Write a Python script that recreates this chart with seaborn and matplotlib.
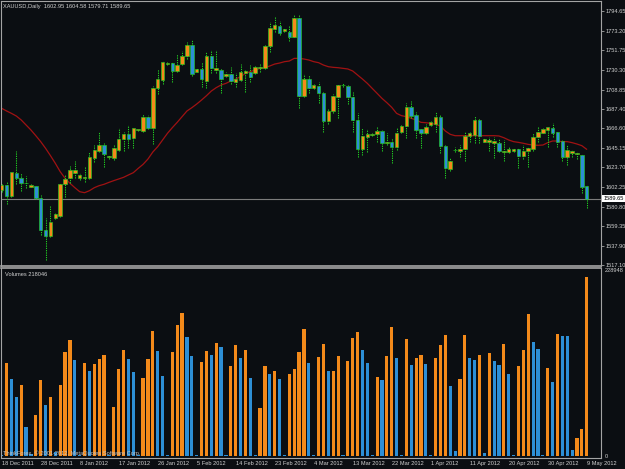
import numpy as np
import pandas as pd
import matplotlib
matplotlib.use('Agg')
import matplotlib.pyplot as plt
import matplotlib.transforms as mtransforms
import seaborn as sns

# ---- data (XAUUSD daily, 18 Dec 2011 - 9 May 2012) ----
symbol = 'XAUUSD,Daily'
copyright_text = 'ThinkForex, \u00a9 2001-2012, MetaQuotes Software Corp.'

date_labels = ['18 Dec 2011', '28 Dec 2011', '8 Jan 2012', '17 Jan 2012', '26 Jan 2012',
               '5 Feb 2012', '14 Feb 2012', '23 Feb 2012', '4 Mar 2012', '13 Mar 2012',
               '22 Mar 2012', '1 Apr 2012', '11 Apr 2012', '20 Apr 2012', '30 Apr 2012',
               '9 May 2012']

opens = [1599.1, 1604.5, 1592.9, 1618.0, 1612.5, 1606.5, 1602.7, 1603.1, 1590.0, 1555.4,
         1549.2, 1568.1, 1571.0, 1606.0, 1611.8, 1618.0, 1612.5, 1611.8, 1611.8, 1634.4,
         1641.7, 1647.9, 1635.1, 1634.4, 1643.1, 1654.4, 1660.3, 1655.5, 1664.3, 1663.5,
         1679.2, 1666.4, 1710.1, 1719.3, 1737.1, 1737.5, 1729.5, 1736.4, 1745.8, 1757.5,
         1728.4, 1730.9, 1718.5, 1745.5, 1730.2, 1730.2, 1723.6, 1725.8, 1717.4, 1719.3,
         1727.3, 1728.4, 1726.9, 1732.0, 1732.7, 1756.8, 1775.0, 1778.3, 1772.8, 1772.1,
         1766.6, 1786.6, 1702.1, 1720.3, 1710.9, 1712.7, 1705.4, 1674.5, 1685.4, 1701.0,
         1713.4, 1713.1, 1700.3, 1675.6, 1643.5, 1657.3, 1659.2, 1660.3, 1663.5, 1650.1,
         1651.9, 1646.4, 1662.1, 1669.0, 1689.4, 1681.0, 1665.4, 1661.7, 1670.1, 1671.2,
         1679.2, 1647.1, 1622.0, 1642.4, 1642.0, 1643.5, 1658.1, 1659.2, 1675.6, 1651.9,
         1651.9, 1650.8, 1650.8, 1640.9, 1640.9, 1641.7, 1643.5, 1636.6, 1641.7, 1643.5,
         1657.3, 1661.7, 1665.0, 1667.2, 1662.8, 1652.6, 1635.5, 1639.1, 1638.0, 1637.3,
         1602.95]

highs = [1606.4, 1608.2, 1619.1, 1641.7, 1617.3, 1614.4, 1605.3, 1603.8, 1593.6, 1568.1,
         1581.6, 1573.6, 1606.4, 1615.5, 1625.3, 1631.1, 1617.3, 1623.8, 1640.9, 1648.2,
         1662.1, 1650.1, 1637.3, 1648.2, 1667.2, 1662.8, 1670.1, 1667.2, 1665.7, 1681.7,
         1681.0, 1713.1, 1730.9, 1740.0, 1739.3, 1738.6, 1747.3, 1750.9, 1761.1, 1763.0,
         1732.0, 1738.6, 1750.2, 1752.0, 1752.0, 1732.0, 1728.4, 1733.1, 1726.5, 1736.7,
         1730.2, 1735.6, 1734.6, 1736.4, 1757.5, 1782.3, 1787.7, 1783.7, 1775.7, 1779.3,
         1790.3, 1790.3, 1725.4, 1724.7, 1714.9, 1716.7, 1705.8, 1688.3, 1703.6, 1714.9,
         1716.3, 1713.8, 1705.8, 1682.8, 1666.4, 1665.4, 1661.7, 1669.0, 1664.6, 1661.7,
         1656.2, 1666.4, 1670.1, 1693.8, 1696.7, 1683.9, 1665.7, 1670.8, 1674.5, 1683.9,
         1681.0, 1648.2, 1633.7, 1646.4, 1648.2, 1662.8, 1662.8, 1679.9, 1677.4, 1656.2,
         1657.3, 1657.3, 1654.4, 1653.7, 1646.4, 1644.6, 1644.6, 1648.2, 1646.4, 1661.0,
         1667.5, 1666.4, 1668.3, 1671.9, 1663.5, 1653.7, 1648.2, 1642.8, 1640.9, 1638.0,
         1604.58]

lows = [1597.2, 1583.4, 1591.8, 1605.3, 1598.0, 1601.6, 1602.0, 1589.2, 1549.9, 1522.6,
        1548.1, 1567.0, 1569.9, 1591.8, 1606.4, 1611.8, 1610.0, 1608.2, 1611.1, 1630.0,
        1641.0, 1624.6, 1632.9, 1631.8, 1642.0, 1642.0, 1645.3, 1645.3, 1663.5, 1662.8,
        1665.7, 1649.0, 1703.6, 1714.5, 1735.6, 1716.7, 1728.4, 1735.6, 1742.2, 1724.0,
        1727.6, 1712.0, 1710.1, 1726.5, 1726.5, 1704.7, 1722.9, 1714.5, 1712.0, 1718.2,
        1705.8, 1716.7, 1725.8, 1728.4, 1731.3, 1749.5, 1772.1, 1768.4, 1772.1, 1761.9,
        1765.9, 1689.0, 1701.0, 1704.7, 1709.4, 1693.8, 1662.8, 1670.8, 1682.8, 1677.4,
        1712.0, 1692.7, 1662.8, 1634.8, 1637.3, 1640.2, 1658.4, 1651.9, 1642.0, 1648.2,
        1628.2, 1642.8, 1661.7, 1655.5, 1678.1, 1655.5, 1645.3, 1659.9, 1669.4, 1662.8,
        1639.1, 1611.8, 1619.8, 1640.9, 1635.5, 1631.1, 1651.9, 1650.8, 1650.1, 1651.1,
        1641.7, 1634.4, 1640.9, 1631.1, 1639.1, 1640.9, 1623.5, 1633.0, 1624.6, 1642.0,
        1651.1, 1661.0, 1646.4, 1657.3, 1646.4, 1631.1, 1626.4, 1635.5, 1632.6, 1595.4,
        1579.71]

closes = [1604.5, 1592.9, 1618.4, 1612.5, 1607.1, 1606.2, 1604.5, 1590.0, 1555.4, 1549.2,
          1564.5, 1572.5, 1605.6, 1611.1, 1620.9, 1620.9, 1615.5, 1613.3, 1634.8, 1642.8,
          1647.9, 1638.4, 1635.5, 1645.3, 1654.4, 1660.3, 1654.8, 1666.4, 1665.0, 1679.2,
          1667.2, 1710.1, 1720.3, 1738.6, 1737.8, 1729.5, 1735.6, 1745.5, 1757.5, 1725.4,
          1730.9, 1720.3, 1745.5, 1732.0, 1732.7, 1720.3, 1725.8, 1718.2, 1720.3, 1728.4,
          1729.1, 1722.2, 1733.8, 1733.8, 1756.8, 1776.4, 1779.3, 1771.0, 1775.0, 1766.6,
          1786.6, 1702.1, 1720.3, 1710.9, 1713.8, 1705.1, 1674.5, 1685.4, 1702.1, 1713.8,
          1714.2, 1700.3, 1675.6, 1643.5, 1658.1, 1660.3, 1660.6, 1663.9, 1650.1, 1651.9,
          1646.4, 1661.7, 1669.0, 1690.1, 1680.3, 1664.6, 1661.0, 1668.3, 1673.0, 1679.2,
          1647.1, 1623.5, 1630.8, 1643.1, 1643.5, 1658.1, 1661.0, 1675.6, 1658.4, 1654.8,
          1653.7, 1652.6, 1641.7, 1642.0, 1643.5, 1643.5, 1636.6, 1642.0, 1644.6, 1657.3,
          1662.8, 1665.4, 1667.5, 1661.7, 1651.9, 1635.5, 1642.8, 1642.0, 1639.9, 1602.7,
          1589.65]

ma_values = [1688.3, 1685.4, 1682.8, 1679.9, 1675.6, 1670.1, 1664.6, 1658.4, 1651.9, 1644.6,
             1636.6, 1628.2, 1619.1, 1611.8, 1606.4, 1601.6, 1597.2, 1596.1, 1598.3, 1601.6,
             1603.8, 1605.3, 1607.4, 1609.3, 1611.1, 1612.9, 1615.5, 1618.0, 1622.7, 1627.1,
             1632.9, 1640.6, 1646.4, 1653.7, 1661.0, 1667.2, 1673.0, 1679.2, 1685.4, 1689.0,
             1693.0, 1697.4, 1702.1, 1707.2, 1710.9, 1713.8, 1715.6, 1718.2, 1720.3, 1722.9,
             1726.5, 1728.4, 1730.2, 1732.0, 1732.7, 1734.6, 1736.7, 1737.8, 1739.3, 1740.0,
             1742.9, 1742.9, 1742.2, 1741.1, 1739.3, 1738.2, 1735.6, 1733.8, 1733.1, 1732.7,
             1732.0, 1731.3, 1729.1, 1724.7, 1720.3, 1715.6, 1710.1, 1704.7, 1699.2, 1694.5,
             1689.4, 1682.8, 1680.3, 1679.2, 1677.4, 1675.6, 1673.0, 1672.6, 1671.9, 1670.8,
             1669.0, 1663.5, 1659.9, 1658.4, 1658.4, 1658.4, 1658.4, 1658.4, 1658.4, 1658.4,
             1658.4, 1658.4, 1658.1, 1656.2, 1653.7, 1651.9, 1651.1, 1650.1, 1648.9, 1648.2,
             1647.9, 1648.2, 1650.8, 1652.6, 1652.6, 1651.9, 1651.9, 1650.8, 1649.3, 1647.5,
             1643.5]

volumes = [1500, 113800, 94000, 72400, 86600, 35800, 2000, 50000, 92700, 62200,
           72000, 4900, 86600, 126500, 141500, 117100, 1300, 113100, 104100, 112300,
           118400, 123200, 1400, 59400, 106200, 129300, 118000, 102100, 1200, 94600,
           118400, 152500, 128100, 98000, 1300, 126500, 159800, 174500, 145200, 122000,
           1400, 114300, 128100, 123200, 137500, 132600, 1200, 109800, 135400, 119900,
           129300, 94800, 1300, 58900, 109800, 100100, 103700, 94000, 1400, 99700,
           106200, 126500, 155000, 113800, 1300, 120800, 137000, 103700, 104100, 122000,
           1200, 115600, 143600, 151300, 129300, 113800, 1300, 95800, 92700, 122000,
           157400, 119200, 1400, 142800, 111400, 119600, 122900, 112300, 1200, 119600,
           135100, 148000, 85400, 6100, 94000, 147300, 119200, 117100, 122900, 3700,
           125700, 115900, 111000, 136300, 100100, 1100, 109800, 129000, 173300, 139100,
           130900, 1000, 107400, 90700, 148900, 146400, 146000, 7300, 21600, 32900,
           218046]

price_levels = [1794.65, 1773.20, 1751.75, 1730.30, 1708.85, 1687.40, 1666.60,
                1645.15, 1623.70, 1602.25, 1580.80, 1559.35, 1537.90, 1517.10]
volume_scale_max = 228948

# ---- style ----
BG = '#0b0e12'
FRAME = '#a4a4a4'
TXT = '#d2d2d2'
ORANGE = '#f48a1a'
BLUE = '#2d8fd6'
GREEN = '#22d022'
MA_RED = '#a01212'
FS = 4.1

sns.set_theme(style='dark', rc={'axes.facecolor': BG, 'figure.facecolor': BG,
                                'savefig.facecolor': BG})
plt.rcParams['font.family'] = ['Liberation Sans', 'DejaVu Sans']

df = pd.DataFrame({'bar': np.arange(len(closes)), 'open': opens, 'high': highs,
                   'low': lows, 'close': closes, 'ma': ma_values, 'volume': volumes})
df['body_low'] = df[['open', 'close']].min(axis=1)
df['body_h'] = (df['close'] - df['open']).abs().clip(lower=0.9)
df['fill'] = np.where(df['close'] >= df['open'], ORANGE, BLUE)
df['vdir'] = np.where(df['volume'] > df['volume'].shift(1), 'up', 'down')

W, H = 625, 469
fig = plt.figure(figsize=(W / 100, H / 100), dpi=100)
ax1 = fig.add_axes([1 / W, (H - 266) / H, 600 / W, 265 / H])
ax2 = fig.add_axes([1 / W, (H - 457.5) / H, 600 / W, 189.5 / H])

xlim = (-0.144, 122.93)

# price pane
ax1.axhline(closes[-1], color='#7c7c7c', lw=0.8, zorder=1)
sns.lineplot(data=df, x='bar', y='ma', ax=ax1, color=MA_RED, linewidth=0.9, zorder=1.5)
ax1.vlines(df['bar'], df['low'], df['high'], colors=GREEN, lw=0.75,
           linestyles=(0, (1.2, 1.0)), zorder=2)
ax1.bar(df['bar'], df['body_h'], bottom=df['body_low'], width=0.72, color=df['fill'],
        edgecolor=GREEN, linewidth=0.42, zorder=3)
ax1.set_xlim(*xlim)
ax1.set_ylim(1516.0, 1805.6)
ax1.set_xticks([])
ax1.yaxis.tick_right()
ax1.set_yticks(price_levels)
ax1.set_yticklabels([f'{v:.2f}' for v in price_levels])
ax1.tick_params(axis='y', length=2, width=0.6, color=FRAME, labelsize=FS,
                labelcolor=TXT, pad=1)
ax1.set_xlabel('')
ax1.set_ylabel('')
ax1.grid(False)

bid_tr = mtransforms.blended_transform_factory(ax1.transAxes, ax1.transData)
ax1.text(1.004, closes[-1], f'{closes[-1]:.2f}', transform=bid_tr, ha='left', va='center',
         fontsize=FS, color='black', clip_on=False, zorder=10,
         bbox=dict(boxstyle='square,pad=0.2', fc='white', ec='none'))

# volume pane
sns.barplot(data=df, x='bar', y='volume', hue='vdir', palette={'up': ORANGE, 'down': BLUE},
            native_scale=True, dodge=False, width=0.65, saturation=1, errorbar=None,
            legend=False, linewidth=0, ax=ax2)
ax2.set_xlim(*xlim)
ax2.set_ylim(-1830, 229400)
ax2.yaxis.tick_right()
ax2.set_yticks([0, volume_scale_max])
ax2.set_yticklabels(['0', str(volume_scale_max)])
ax2.get_yticklabels()[1].set_va('top')
ax2.tick_params(axis='y', length=0, labelsize=FS, labelcolor=TXT, pad=3)
ax2.set_xticks(df['bar'][::8])
ax2.set_xticklabels(date_labels, ha='left')
ax2.tick_params(axis='x', length=2, width=0.6, color=FRAME, labelsize=FS,
                labelcolor=TXT, pad=0.2)
ax2.set_xlabel('')
ax2.set_ylabel('')
ax2.grid(False)

for ax in (ax1, ax2):
    for side in ('left', 'right', 'top', 'bottom'):
        ax.spines[side].set_visible(True)
        ax.spines[side].set_color(FRAME)
        ax.spines[side].set_linewidth(0.8)
ax1.spines['bottom'].set_linewidth(1.2)
ax2.spines['top'].set_linewidth(1.2)

header = f'{symbol}  {opens[-1]:.2f} {highs[-1]:.2f} {lows[-1]:.2f} {closes[-1]:.2f}'
fig.text(3 / W, 1 - 6.2 / H, header, fontsize=FS, color=TXT, ha='left', va='center')
fig.text(5 / W, 1 - 274 / H, f'Volumes {volumes[-1]}', fontsize=FS, color=TXT,
         ha='left', va='center')
fig.text(3 / W, 1 - 453.3 / H, copyright_text, fontsize=FS, color='#c4c4c4',
         ha='left', va='center', zorder=20)

fig.savefig('out.png', dpi=100)
